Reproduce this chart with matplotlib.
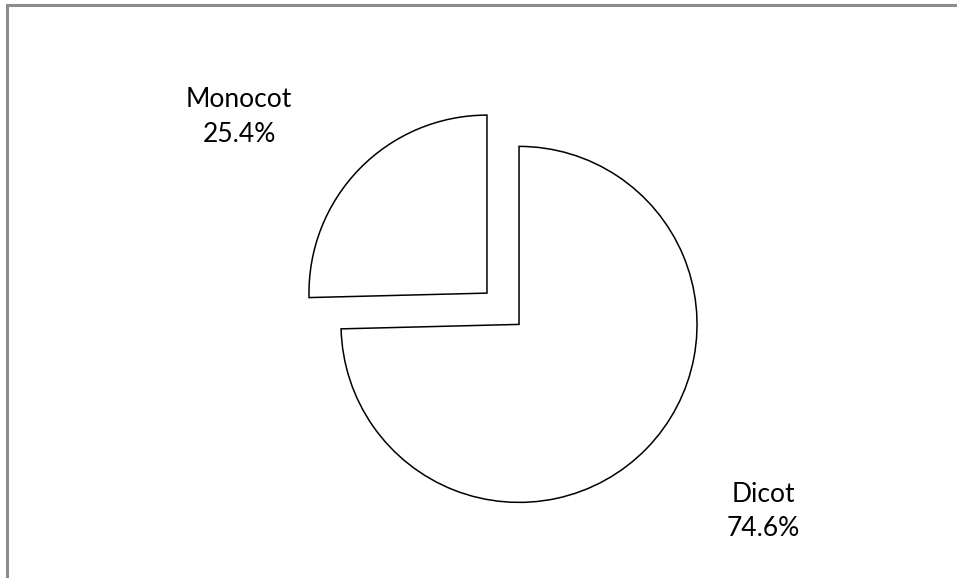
import matplotlib.pyplot as plt

# Share of species by class
categories = ['Dicot', 'Monocot']
shares = [74.6, 25.4]

W, H = 957, 578
fig = plt.figure(figsize=(W / 100, H / 100), dpi=100)
ax = fig.add_axes([0, 0, 1, 1])

# pie drawn in pixel units; explode is an absolute offset here
ax.pie(shares, startangle=90, counterclock=False,
       center=(503, H - 308.75), radius=178,
       explode=[22.4, 22.4],
       colors=['white', 'white'],
       wedgeprops=dict(edgecolor='black', linewidth=1.1, joinstyle='miter'),
       frame=True)
ax.set_xlim(0, W)
ax.set_ylim(0, H)
ax.set_aspect('equal')
ax.axis('off')

# labels: name on the first line, share on the second
label_pos = {'Monocot': (239, 107), 'Dicot': (763, 502)}
for name, val in zip(categories, shares):
    x, y = label_pos[name]
    ax.text(x, H - y, name, ha='center', va='baseline',
            fontsize=19, family='Lato', color='black')
    ax.text(x, H - y - 34.5, f'{val}%', ha='center', va='baseline',
            fontsize=19, family='Lato', color='black')

# chart area border
ax.plot([7, 7, W], [0, H - 5, H - 5], color='#8c8c8c', linewidth=2.2,
        solid_joinstyle='miter', clip_on=False)

fig.savefig('out.png', dpi=100)
